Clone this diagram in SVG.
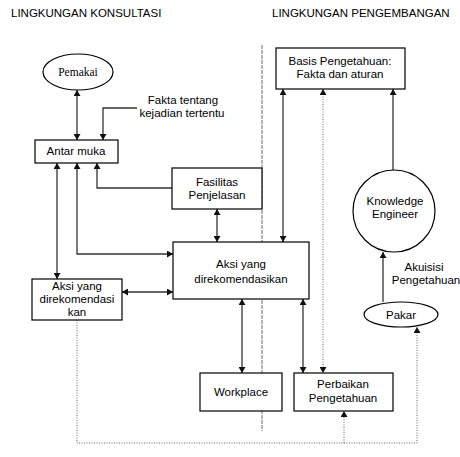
<svg xmlns="http://www.w3.org/2000/svg" width="460" height="457" viewBox="0 0 460 457">
  <style>
    .box { fill: #fff; stroke: #000; stroke-width: 1.2; }
    .lbl { font-family: "Liberation Sans", Arial, sans-serif; font-size: 11.5px; fill: #000; text-anchor: middle; }
    .title { font-family: "Liberation Sans", Arial, sans-serif; font-size: 11.5px; fill: #000; }
    .serif { font-family: "Liberation Serif", "Times New Roman", serif; font-size: 11.5px; fill: #000; text-anchor: middle; }
    .conn { fill: none; stroke: #333; stroke-width: 1.3; }
    .dot { fill: none; stroke: #666; stroke-width: 1; stroke-dasharray: 1 1.5; }
    .divider { fill: none; stroke: #444; stroke-width: 0.8; stroke-dasharray: 4 1; }
  </style>
  <defs>
    <marker id="ah" viewBox="0 0 6 7" refX="6" refY="3.5" markerWidth="6" markerHeight="7" markerUnits="userSpaceOnUse" orient="auto-start-reverse">
      <path d="M0,0 L6,3.5 L0,7 z" fill="#111"/>
    </marker>
  </defs>

  <!-- section headings -->
  <text class="title" x="11" y="17">LINGKUNGAN KONSULTASI</text>
  <text class="title" x="272" y="17">LINGKUNGAN PENGEMBANGAN</text>

  <!-- boundary between the two environments -->
  <path class="divider" d="M262,45 V431"/>

  <g id="connectors">
    <path class="conn" d="M77,90 V140" marker-start="url(#ah)" marker-end="url(#ah)"/>
    <path class="conn" d="M137,108 H103 V140" marker-end="url(#ah)"/>
    <path class="conn" d="M57,163 V279" marker-start="url(#ah)" marker-end="url(#ah)"/>
    <path class="conn" d="M77,163 V254 H173" marker-start="url(#ah)" marker-end="url(#ah)"/>
    <path class="conn" d="M172,188 H97 V163" marker-end="url(#ah)"/>
    <path class="conn" d="M217,209 V242" marker-start="url(#ah)" marker-end="url(#ah)"/>
    <path class="conn" d="M122,292 H173" marker-start="url(#ah)" marker-end="url(#ah)"/>
    <path class="conn" d="M283,89 V242" marker-start="url(#ah)" marker-end="url(#ah)"/>
    <path class="dot" d="M323,89 V373" marker-start="url(#ah)" marker-end="url(#ah)"/>
    <path class="conn" d="M393,170 V89" marker-end="url(#ah)"/>
    <path class="conn" d="M383,302 V252" marker-end="url(#ah)"/>
    <path class="conn" d="M242,299 V373" marker-start="url(#ah)" marker-end="url(#ah)"/>
    <path class="conn" d="M303,299 V373" marker-start="url(#ah)" marker-end="url(#ah)"/>
    <path class="dot" d="M77,320 V443 H417 V327" marker-end="url(#ah)"/>
    <path class="dot" d="M344,443 V411" marker-end="url(#ah)"/>
  </g>

  <g id="fakta">
    <text class="lbl" x="183" y="104">Fakta tentang</text>
    <text class="lbl" x="182" y="117">kejadian tertentu</text>
  </g>

  <g id="akuisisi">
    <text class="lbl" x="424" y="271">Akuisisi</text>
    <text class="lbl" x="426" y="284">Pengetahuan</text>
  </g>

  <g id="pemakai">
    <ellipse class="box" cx="78" cy="72" rx="35" ry="18"/>
    <text class="serif" x="78" y="76">Pemakai</text>
  </g>

  <g id="antar-muka">
    <rect class="box" x="35" y="140" width="83" height="23"/>
    <text class="lbl" x="76" y="155">Antar muka</text>
  </g>

  <g id="fasilitas">
    <rect class="box" x="172" y="168" width="90" height="41"/>
    <text class="lbl" x="217" y="186">Fasilitas</text>
    <text class="lbl" x="217" y="199">Penjelasan</text>
  </g>

  <g id="aksi-kiri">
    <rect class="box" x="32" y="279" width="90" height="41"/>
    <text class="lbl" x="77" y="290">Aksi yang</text>
    <text class="lbl" x="77" y="303">direkomendasi</text>
    <text class="lbl" x="77" y="316">kan</text>
  </g>

  <g id="aksi">
    <rect class="box" x="173" y="242" width="136" height="57"/>
    <text class="lbl" x="241" y="268">Aksi yang</text>
    <text class="lbl" x="241" y="283">direkomendasikan</text>
  </g>

  <g id="basis">
    <rect class="box" x="276" y="48" width="129" height="41"/>
    <text class="lbl" x="340" y="65">Basis Pengetahuan:</text>
    <text class="lbl" x="340" y="78">Fakta dan aturan</text>
  </g>

  <g id="knowledge-engineer">
    <circle class="box" cx="394" cy="211" r="41"/>
    <text class="lbl" x="395" y="205">Knowledge</text>
    <text class="lbl" x="395" y="218">Engineer</text>
  </g>

  <g id="pakar">
    <ellipse class="box" cx="401" cy="314.5" rx="37" ry="12.5"/>
    <text class="lbl" x="401" y="319">Pakar</text>
  </g>

  <g id="workplace">
    <rect class="box" x="200" y="373" width="82" height="38"/>
    <text class="lbl" x="241" y="396">Workplace</text>
  </g>

  <g id="perbaikan">
    <rect class="box" x="294" y="373" width="99" height="38"/>
    <text class="lbl" x="343" y="388">Perbaikan</text>
    <text class="lbl" x="343" y="402">Pengetahuan</text>
  </g>
</svg>
